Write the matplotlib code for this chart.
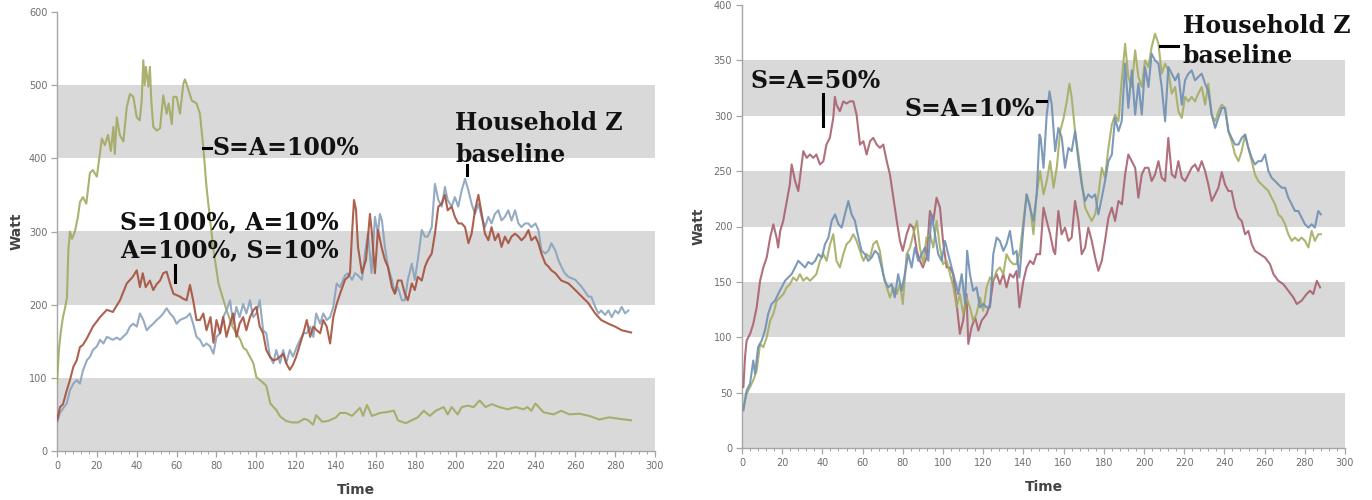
import matplotlib.pyplot as plt
from matplotlib.ticker import MultipleLocator

# (time, watt) readings for each scenario
left_green = [(0, 92), (1, 140), (2, 165), (3, 183), (4, 195), (5, 210), (5.7, 275), (6.5, 300), (7.5, 290),
              (9, 300), (10.5, 320), (11.5, 340), (13, 347), (14.7, 338), (16.5, 380), (18, 384), (20, 375),
              (22.5, 427), (24, 418), (25.6, 432), (27, 410), (28.3, 443), (29, 406), (30, 456), (31.5, 432),
              (33.3, 423), (35, 470), (36.6, 488), (38.3, 484), (40, 456), (41.5, 452), (42.5, 479), (43.3, 534),
              (44, 500), (44.6, 525), (45.8, 498), (46.6, 525), (47.3, 479), (48.3, 443), (50, 438), (51.7, 441),
              (53.3, 486), (55, 461), (56, 475), (57.6, 447), (58.4, 484), (60, 484), (61.7, 461), (63.4, 502),
              (64.2, 508), (66, 493), (67.6, 479), (70, 475), (71.7, 461), (73.4, 415), (75, 361), (76.8, 316),
              (78.5, 275), (81, 229), (85, 193), (88, 170), (92, 152), (93.5, 141), (95, 138), (98.5, 120),
              (100, 101), (103.5, 93), (105, 89), (107, 65), (110, 56), (112, 47), (115, 41), (118, 39), (121, 39),
              (124, 44), (126, 42), (128.5, 36), (130, 49), (133, 40), (136, 41), (140, 46), (142, 52), (145, 52),
              (148, 48), (152, 59), (153.5, 48), (155.5, 63), (158, 48), (162, 52), (165, 53), (169, 55), (171, 42),
              (175, 38), (178, 42), (181, 46), (184, 55), (187, 48), (190, 55), (194, 60), (196, 50), (198, 60),
              (201, 50), (203, 60), (206, 62), (209, 60), (212, 69), (215, 60), (218, 64), (222, 60), (226, 57),
              (230, 60), (234, 57), (236, 60), (238, 55), (240, 65), (244, 53), (249, 50), (253, 55), (257, 50),
              (262, 51), (267, 48), (272, 43), (277, 46), (282, 44), (288, 42)]

left_red = [(0, 42), (1.5, 60), (3, 64), (4.9, 83), (6.5, 97), (8.2, 115), (9.9, 124), (11.5, 142), (13, 145),
            (15, 154), (18, 170), (21.6, 183), (25, 193), (28, 190), (31.6, 206), (35, 229), (38, 238), (40, 247),
            (41.6, 224), (43, 243), (44.5, 224), (46.6, 233), (48.3, 220), (50, 228), (51.7, 233), (53.3, 243),
            (55, 245), (56.7, 229), (58.4, 215), (60, 213), (61.7, 211), (63.4, 208), (65, 206), (66.7, 227),
            (68.3, 206), (70, 179), (71.7, 179), (73.4, 188), (75, 165), (77, 183), (78.5, 148), (80, 179),
            (81.8, 161), (83.4, 183), (85, 156), (86.8, 174), (88.4, 188), (90, 156), (91.6, 174), (93.4, 183),
            (95, 165), (96.8, 183), (98.4, 192), (100, 197), (101.7, 170), (103.4, 161), (105, 138), (106.8, 129),
            (108.5, 124), (110, 125), (111.9, 129), (113.5, 133), (115, 120), (116.8, 111), (118.4, 118),
            (120, 129), (122, 147), (123.6, 161), (125.3, 179), (127, 156), (128.6, 170), (130.3, 165), (132, 161),
            (133.6, 179), (135.3, 170), (137, 147), (138.6, 183), (140.3, 201), (142, 215), (144.5, 234),
            (146, 238), (147, 243), (148, 297), (149, 343), (150, 330), (151, 279), (153, 243), (155, 261),
            (157, 324), (158, 297), (159.5, 243), (161, 302), (162.8, 279), (164.5, 261), (166, 252), (168, 224),
            (169.5, 215), (171, 233), (172.8, 233), (174.5, 215), (176, 206), (178, 229), (179.5, 220), (181, 238),
            (183, 233), (184.6, 252), (186, 261), (188, 270), (189.6, 297), (191.3, 334), (193, 338), (194.6, 350),
            (196, 329), (198, 334), (199.6, 320), (201.3, 311), (203, 311), (204.7, 306), (206.4, 284), (208, 297),
            (209.7, 329), (211.4, 350), (213, 325), (214.7, 297), (216.4, 288), (218, 306), (219.7, 288),
            (221.4, 297), (223, 279), (224.7, 293), (226.4, 284), (228, 293), (229.8, 297), (231.5, 293),
            (233, 288), (234.8, 293), (236.5, 302), (238, 288), (240, 293), (241.5, 284), (243, 270), (245, 256),
            (246.6, 252), (248, 247), (250, 243), (253, 233), (256.6, 229), (260, 220), (263.3, 211),
            (266.6, 202), (270, 188), (273, 179), (276.6, 174), (280, 170), (283.3, 165), (286.6, 163), (288, 162)]

left_blue = [(0, 38), (1.5, 52), (3, 58), (4.9, 65), (6.5, 83), (8.2, 92), (9.9, 97), (11.5, 92), (13, 110),
             (15, 124), (16.6, 129), (18, 138), (20, 143), (21.6, 152), (23.3, 147), (25, 156), (28, 152),
             (30, 155), (31.6, 152), (35, 161), (36.6, 170), (38.3, 174), (40, 170), (41.6, 188), (43.3, 179),
             (45, 165), (46.6, 170), (48.3, 174), (50, 179), (51.7, 183), (53.3, 188), (55, 195), (56.7, 188),
             (58.4, 183), (60, 174), (61.7, 179), (65, 183), (66.7, 188), (68.3, 174), (70, 156), (71.7, 152),
             (73.4, 143), (75, 147), (76.8, 143), (78.5, 133), (80, 156), (81.8, 161), (83.4, 183), (85, 192),
             (86.8, 206), (88.4, 174), (90, 197), (91.6, 183), (93.4, 201), (95, 188), (96.8, 206), (98.4, 183),
             (100, 188), (101.7, 206), (103.4, 165), (105, 161), (106.8, 129), (108.5, 120), (110, 138),
             (111.9, 120), (113.5, 138), (115, 120), (116.8, 138), (118.4, 129), (120.4, 143), (122, 152),
             (123.6, 161), (125.3, 161), (127, 170), (128.6, 156), (130, 188), (132, 174), (133.6, 188),
             (135.3, 179), (137, 183), (138.6, 197), (140.3, 229), (142, 224), (144.5, 240), (146, 243), (148, 234),
             (149.5, 243), (151, 240), (153, 234), (154.5, 270), (156, 297), (157.8, 243), (159.5, 320), (161, 297),
             (162, 324), (163, 315), (164.5, 279), (166, 252), (168, 234), (169.5, 215), (171, 224), (173, 206),
             (174.5, 206), (176, 234), (178, 256), (179.5, 234), (181, 261), (183, 302), (184.6, 293), (186, 293),
             (188, 306), (189.6, 365), (191.3, 343), (193, 334), (194.6, 361), (196, 343), (198, 334), (199.6, 347),
             (201.3, 334), (203, 356), (204.7, 372), (206.4, 356), (208, 338), (209.7, 324), (211.4, 338),
             (213, 320), (214.7, 306), (216.4, 320), (218, 311), (219.7, 324), (221.4, 329), (223, 315),
             (224.7, 320), (226.4, 329), (228, 315), (229.8, 329), (231.5, 311), (233, 306), (234.8, 311),
             (236.5, 311), (238, 306), (240, 311), (241.5, 302), (243, 274), (245, 270), (246.6, 274), (248, 284),
             (250, 274), (251.5, 261), (253, 252), (254.7, 243), (256.6, 238), (260, 234), (263.3, 224),
             (266.6, 211), (268, 211), (270, 197), (271.6, 188), (273, 192), (275, 186), (276.6, 192),
             (278.3, 183), (280, 192), (281.6, 188), (283.3, 197), (285, 188), (286.6, 192)]

right_red = [(0.7, 55), (1.5, 82), (2.3, 97), (4, 103), (5.6, 112), (7.3, 127), (9, 151), (10.6, 163), (12.3, 172),
             (14, 190), (15.6, 202), (17.2, 190), (18, 181), (19, 196), (20.5, 205), (22, 220), (23.8, 238),
             (24.7, 256), (26.4, 241), (28, 232), (29.7, 256), (30.5, 268), (32.2, 262), (33.8, 265), (35.5, 262),
             (37, 265), (38.8, 256), (40.5, 259), (42, 274), (43.7, 280), (45.4, 298), (46.2, 317), (47, 310),
             (48.7, 304), (50.4, 313), (52, 311), (53.7, 313), (55.4, 313), (57, 301), (58.7, 274), (60.4, 277),
             (62, 265), (63.7, 277), (65.3, 280), (67, 274), (68.6, 271), (70.3, 274), (72, 259), (73.6, 247),
             (75.3, 226), (77, 205), (78.6, 187), (80, 178), (81.9, 193), (83.6, 202), (85.2, 199), (87, 178),
             (88.5, 169), (90, 163), (91.8, 172), (93.5, 214), (95.2, 205), (96.8, 226), (98.5, 217), (100, 187),
             (101.8, 163), (103.5, 163), (105, 157), (106.8, 130), (108.4, 103), (110, 115), (111.7, 139),
             (112.6, 94), (114.2, 109), (116, 118), (117.6, 106), (119.2, 115), (121.7, 121), (123.4, 130),
             (125, 151), (126.7, 157), (128.3, 148), (130, 157), (131.6, 145), (133.3, 157), (135, 154),
             (136.6, 160), (138, 127), (140, 151), (141.6, 163), (143.3, 169), (145, 166), (146.6, 175),
             (148.3, 175), (150, 217), (151.6, 205), (153.3, 193), (155, 178), (155.8, 175), (157.4, 214),
             (159, 193), (160.7, 199), (162.4, 187), (164, 190), (165.7, 223), (167.4, 205), (169, 175),
             (170.7, 181), (172.3, 199), (174, 187), (175.7, 172), (177.3, 160), (179, 169), (180.6, 187),
             (182.3, 208), (184, 217), (185.6, 205), (187.3, 223), (189, 220), (190.6, 247), (192.2, 265),
             (193.9, 259), (195.6, 253), (197.2, 226), (198.9, 247), (200.5, 253), (202.2, 253), (203.8, 241),
             (205.5, 247), (207.2, 259), (208.8, 244), (210.5, 241), (212.1, 280), (213.8, 247), (215.5, 244),
             (217.1, 259), (218.8, 244), (220.4, 241), (222.1, 247), (223.7, 253), (225.4, 256), (227, 250),
             (228.7, 259), (230.4, 250), (232, 238), (233.7, 223), (235.4, 229), (237, 235), (238.7, 249),
             (240.3, 238), (242, 232), (243.6, 232), (245.3, 217), (247, 208), (248.6, 205), (250.3, 193),
             (251.9, 196), (253.6, 184), (255.2, 178), (257.7, 175), (260.2, 172), (262.7, 166), (264.4, 157),
             (266.8, 151), (269.3, 148), (271.8, 142), (274.3, 136), (276, 130), (278.4, 133), (280.9, 139),
             (282.6, 142), (284.2, 139), (286, 151), (287.6, 145)]

right_blue = [(0.7, 34), (2.3, 52), (4, 58), (5.6, 79), (6.5, 67), (8, 91), (9.8, 97), (11.4, 106), (13, 121),
              (14.7, 130), (16.4, 133), (18, 139), (19.7, 145), (21.4, 151), (23, 154), (24.7, 157), (26.4, 163),
              (28, 169), (29.7, 166), (31.4, 163), (33, 168), (34.7, 166), (36.4, 169), (38, 175), (39.7, 172),
              (41.3, 184), (43, 190), (44.6, 205), (46.3, 211), (48, 202), (49.6, 199), (51.2, 211), (52.9, 223),
              (54.5, 211), (56.2, 205), (57.9, 190), (59.5, 178), (61.2, 175), (62.8, 169), (64.5, 172),
              (66.2, 178), (67.8, 175), (69.5, 163), (71, 151), (72.8, 145), (74.4, 148), (76, 136), (77.7, 157),
              (79.4, 142), (81, 157), (82.7, 175), (84.4, 163), (86, 181), (87.7, 169), (89.4, 175), (91, 181),
              (92.7, 169), (94.3, 211), (96, 193), (97.6, 175), (99.3, 169), (101, 187), (102.6, 175), (104.3, 163),
              (106, 151), (107.6, 139), (109.3, 157), (111, 130), (112, 178), (113.4, 157), (115, 142),
              (116.7, 145), (118.4, 127), (120, 130), (121.7, 127), (123.4, 127), (125, 175), (126.7, 190),
              (128.3, 187), (130, 178), (131.6, 184), (133.3, 196), (135, 175), (136.6, 178), (138, 154), (140, 199),
              (141.6, 229), (143.3, 217), (145, 205), (146.6, 229), (148, 283), (148.6, 280), (150, 253),
              (151.6, 301), (153, 322), (154.1, 310), (155.8, 268), (157.4, 289), (159.1, 280), (160.7, 253),
              (162.4, 271), (164, 268), (165.7, 286), (167.4, 259), (169, 238), (170.7, 223), (172.3, 229),
              (174, 226), (175.7, 229), (177.3, 211), (179, 226), (180.6, 241), (182.3, 259), (184, 265),
              (185.6, 298), (187.3, 286), (188.9, 295), (190.6, 347), (192.2, 307), (193.9, 341), (195.6, 301),
              (197.2, 329), (198.9, 301), (200.5, 344), (202.2, 326), (203.8, 356), (205.5, 350), (207.2, 347),
              (208.8, 326), (210.5, 295), (212.1, 344), (213.8, 338), (215.5, 332), (217.1, 338), (218.8, 310),
              (220.4, 332), (222.1, 338), (223.7, 341), (225.4, 332), (227, 335), (228.7, 338), (230.4, 329),
              (232, 322), (233.7, 301), (235.4, 289), (237, 298), (238.7, 307), (240.3, 307), (242, 286),
              (243.6, 280), (245.3, 274), (247, 274), (248.6, 280), (250.3, 283), (251.9, 271), (253.6, 262),
              (255.2, 256), (256.9, 259), (258.5, 259), (260.2, 265), (261.9, 250), (263.5, 244), (265.2, 241),
              (266.8, 238), (268.5, 235), (270.2, 235), (271.8, 226), (273.5, 220), (275.1, 214), (276.8, 214),
              (278.4, 208), (280.1, 202), (281.8, 199), (283.4, 202), (285, 199), (286.7, 214), (288, 211)]

right_green = [(0.7, 37), (2.3, 49), (4, 55), (5.6, 61), (7.3, 70), (9, 94), (10.6, 91), (12.3, 100), (14, 115),
               (15.6, 121), (17.3, 133), (19, 136), (20.6, 139), (22.2, 145), (23.9, 148), (25.5, 154),
               (27.2, 151), (28.8, 157), (30.5, 151), (32.2, 154), (33.8, 151), (35.5, 154), (37, 157),
               (38.8, 169), (40.5, 175), (42.1, 169), (43.8, 184), (45.4, 193), (47, 169), (48.7, 163),
               (50.4, 175), (52, 184), (53.7, 187), (55.4, 193), (57, 187), (58.7, 178), (60.4, 169), (62, 175),
               (63.7, 172), (65.3, 184), (67, 187), (68.6, 178), (70.3, 157), (72, 145), (73.6, 136), (75.3, 145),
               (77, 139), (78.6, 148), (80, 130), (81.9, 175), (83.6, 181), (85.2, 193), (87, 205), (88.5, 181),
               (90.2, 166), (91.8, 190), (93.5, 193), (95.2, 181), (96.8, 205), (98.5, 181), (100, 166),
               (101.8, 169), (103.5, 157), (105.2, 145), (106.8, 127), (108.4, 139), (110, 121), (111.7, 136),
               (113.4, 127), (115, 115), (116.7, 121), (118.4, 136), (120, 124), (121.7, 145), (123.4, 154),
               (125, 151), (126.7, 160), (128.3, 163), (130, 157), (131.6, 175), (133.3, 169), (135, 166),
               (136.6, 166), (138.3, 178), (140, 205), (141.6, 229), (143.2, 220), (145, 193), (146.6, 229),
               (148.3, 250), (150, 229), (151.6, 241), (153.3, 259), (155, 235), (156.6, 253), (158.3, 286),
               (160, 298), (161.6, 313), (162.9, 329), (164, 317), (165.7, 286), (167.4, 265), (169, 241),
               (170.7, 217), (172.3, 211), (174, 205), (175.7, 211), (177.3, 229), (179, 253), (180.6, 244),
               (182.3, 271), (184, 292), (185.6, 301), (187.3, 295), (188.9, 332), (190.6, 365), (192.2, 335),
               (193.9, 326), (195.6, 359), (197.2, 335), (198.9, 326), (200.5, 350), (202.2, 344), (203.8, 362),
               (205.5, 374), (207.2, 365), (208.8, 338), (210.5, 347), (212.1, 341), (213.8, 320), (215.5, 326),
               (217.1, 304), (218.8, 298), (220.4, 317), (222.1, 313), (223.7, 317), (225.4, 313), (227, 320),
               (228.7, 326), (230.4, 310), (232, 329), (233.7, 301), (235.4, 295), (237, 304), (238.7, 310),
               (240.3, 307), (242, 286), (243.6, 277), (245.3, 265), (247, 259), (248.6, 268), (250.3, 283),
               (251.9, 271), (253.6, 259), (255.2, 247), (256.9, 241), (258.5, 238), (260.2, 235), (261.9, 232),
               (263.5, 226), (265.2, 220), (266.8, 211), (268.5, 208), (270.2, 202), (271.8, 193), (273.5, 187),
               (275.1, 190), (276.8, 187), (278.4, 190), (280.1, 187), (281.8, 181), (283.4, 196), (285, 187),
               (286.7, 193), (288, 193)]

x_ticks = list(range(0, 301, 20))
left_y_ticks = list(range(0, 601, 100))
right_y_ticks = list(range(0, 401, 50))

BAND = '#d9d9d9'
AXIS = '#a6a6a6'
TICKTXT = '#6e6e6e'
NOTE = dict(family='DejaVu Serif', fontweight='bold', fontsize=17, color='#111111')

fig = plt.figure(figsize=(13.72, 5.0), dpi=100)
ax1 = fig.add_axes([57 / 1372, 49 / 500, 598 / 1372, 439 / 500])
ax2 = fig.add_axes([742 / 1372, 52 / 500, 603 / 1372, 443 / 500])


def setup(ax, yticks, ypad):
    step = yticks[1] - yticks[0]
    # alternating grey bands, starting with the bottom one
    for lo in yticks[:-1:2]:
        ax.axhspan(lo, lo + step, color=BAND, lw=0, zorder=0)
    ax.set_xlim(0, 300)
    ax.set_ylim(0, yticks[-1])
    ax.set_xticks(x_ticks)
    ax.set_yticks(yticks)
    ax.xaxis.set_minor_locator(MultipleLocator(4))
    for s in ['top', 'right']:
        ax.spines[s].set_visible(False)
    for s in ['left', 'bottom']:
        ax.spines[s].set_color(AXIS)
        ax.spines[s].set_linewidth(1.0)
    ax.tick_params(which='major', length=4, width=0.9, color=AXIS, labelsize=7, labelcolor=TICKTXT, pad=3)
    ax.tick_params(which='minor', length=2.5, width=0.7, color=AXIS)
    ax.tick_params(axis='y', which='minor', left=False)
    ax.set_xlabel('Time', fontsize=10, fontweight='bold', color='#444444', labelpad=9)
    ax.set_ylabel('Watt', fontsize=10, fontweight='bold', color='#444444', labelpad=ypad)
    ax.set_facecolor('white')


def draw(ax, pts, color):
    t, w = zip(*pts)
    ax.plot(t, w, color=color, lw=1.5, zorder=3, solid_joinstyle='round', alpha=0.9)


setup(ax1, left_y_ticks, 4)
draw(ax1, left_green, '#a3a861')
draw(ax1, left_blue, '#8aa2bc')
draw(ax1, left_red, '#a4503c')

ax1.text(78, 414, 'S=A=100%', ha='left', va='center', **NOTE)
ax1.plot([73, 77.5], [414, 414], color='black', lw=2.2, zorder=5)
ax1.text(31.6, 313, 'S=100%, A=10%', ha='left', va='center', **NOTE)
ax1.text(31.6, 275, 'A=100%, S=10%', ha='left', va='center', **NOTE)
ax1.plot([59.2, 59.2], [231, 254], color='black', lw=2.2, zorder=5)
ax1.text(199.7, 448, 'Household Z', ha='left', va='center', **NOTE)
ax1.text(199.7, 404, 'baseline', ha='left', va='center', **NOTE)
ax1.plot([205.7, 205.7], [377, 391], color='black', lw=2.2, zorder=5)

setup(ax2, right_y_ticks, 6)
draw(ax2, right_red, '#a8606e')
draw(ax2, right_green, '#a5ad62')
draw(ax2, right_blue, '#6f8fb3')

ax2.text(4, 331, 'S=A=50%', ha='left', va='center', **NOTE)
ax2.plot([40.3, 40.3], [291, 320], color='black', lw=2.2, zorder=5)
ax2.text(81, 306, 'S=A=10%', ha='left', va='center', **NOTE)
ax2.plot([147, 151], [313, 313], color='black', lw=2.2, zorder=5)
ax2.text(219.4, 381, 'Household Z', ha='left', va='center', **NOTE)
ax2.text(219.4, 354, 'baseline', ha='left', va='center', **NOTE)
ax2.plot([208, 217], [363, 363], color='black', lw=2.2, zorder=5)

for ax in (ax1, ax2):
    for t in ax.texts:
        t.set_clip_on(False)

fig.savefig('out.png', dpi=100, facecolor='white')
